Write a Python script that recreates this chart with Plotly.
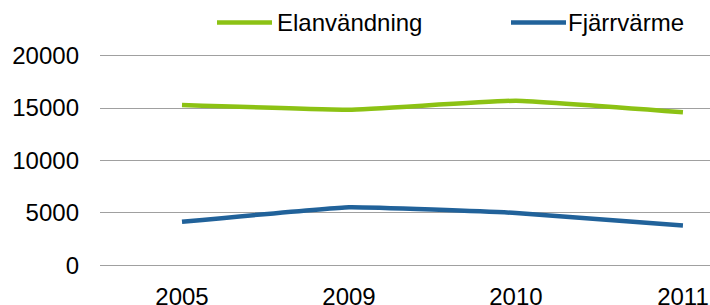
import plotly.graph_objects as go

years = ["2005", "2009", "2010", "2011"]
series_names = ["Elanvändning", "Fjärrvärme"]
elanvandning = [15300, 14850, 15700, 14600]
fjarrvarme = [4150, 5550, 5000, 3800]
y_ticks = [0, 5000, 10000, 15000, 20000]

colors = ["#8CC214", "#21629A"]
FONT = "Liberation Sans, Arial, sans-serif"

fig = go.Figure()
for name, vals, col in zip(series_names, [elanvandning, fjarrvarme], colors):
    fig.add_trace(go.Scatter(
        x=years, y=vals, name=name, mode="lines",
        line=dict(color=col, width=4.5, shape="spline", smoothing=0.3),
        showlegend=False,
    ))

# plot area geometry in pixels (for the hand-drawn legend in paper coords)
L, W = 100, 610
B, H = 268.3, 215
def px(x):
    return (x - L) / W
def py(y):
    return (B - y) / H

legend_items = [(217, 272, 275), (511, 566, 566)]
for (x0, x1, tx), name, col in zip(legend_items, series_names, colors):
    fig.add_shape(type="line", xref="paper", yref="paper",
                  x0=px(x0), x1=px(x1), y0=py(22.7), y1=py(22.7),
                  line=dict(color=col, width=4.5))
    fig.add_annotation(xref="paper", yref="paper", x=px(tx), y=py(23),
                       text=name, showarrow=False, xanchor="left", yanchor="middle",
                       font=dict(family=FONT, size=24, color="#000000"))

fig.update_xaxes(
    type="category", range=[-0.491, 3.162],
    showgrid=False, zeroline=False, showline=False, automargin=False,
    ticks="", tickfont=dict(family=FONT, size=24, color="#000000"),
    ticklabelstandoff=12,
)
fig.update_yaxes(
    range=[-250, 20250], tickvals=y_ticks, ticktext=[str(v) for v in y_ticks],
    showgrid=True, gridcolor="#A0A0A0", gridwidth=1.2,
    zeroline=False, showline=False, ticks="", automargin=False,
    tickfont=dict(family=FONT, size=24, color="#000000"),
    ticklabelstandoff=20,
)
fig.update_layout(
    width=710, height=305,
    margin=dict(l=100, r=0, t=53.3, b=36.7, pad=0),
    paper_bgcolor="white", plot_bgcolor="white",
    font=dict(family=FONT, size=24, color="#000000"),
)
fig.write_html("out.html", config={"displayModeBar": False},
               post_script="document.body.style.margin='0';")
